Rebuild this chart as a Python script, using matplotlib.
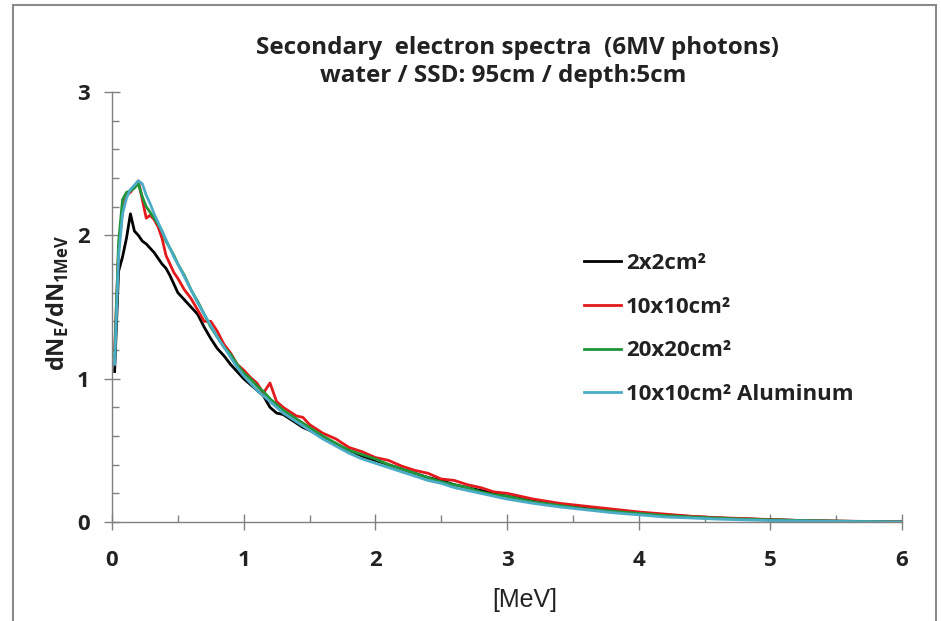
import matplotlib
matplotlib.use("Agg")
import matplotlib.pyplot as plt
from matplotlib.patches import Rectangle
from matplotlib.ticker import MultipleLocator

# energy grid [MeV]
E = [0.02, 0.05, 0.08, 0.11, 0.14, 0.17, 0.20, 0.23, 0.26, 0.29, 0.32, 0.35,
     0.38, 0.41, 0.44, 0.47, 0.50,
     0.55, 0.60, 0.65, 0.70, 0.75, 0.80, 0.85, 0.90, 0.95, 1.00,
     1.05, 1.10, 1.15, 1.20, 1.25, 1.30, 1.35, 1.40, 1.45, 1.50,
     1.6, 1.7, 1.8, 1.9, 2.0, 2.1, 2.2, 2.3, 2.4, 2.5, 2.6, 2.7, 2.8, 2.9, 3.0,
     3.2, 3.4, 3.6, 3.8, 4.0, 4.2, 4.4, 4.6, 4.8, 5.0,
     5.25, 5.5, 5.75, 6.0]

f2x2 = [1.05, 1.75, 1.85, 1.98, 2.15, 2.03, 2.00, 1.96, 1.94, 1.91, 1.88, 1.84,
        1.80, 1.77, 1.72, 1.66, 1.60,
        1.55, 1.50, 1.45, 1.36, 1.28, 1.21, 1.16, 1.10, 1.05, 1.00,
        0.96, 0.92, 0.88, 0.80, 0.76, 0.75, 0.72, 0.69, 0.66, 0.64,
        0.59, 0.54, 0.50, 0.46, 0.43, 0.40, 0.37, 0.34, 0.31, 0.29, 0.26, 0.24, 0.22, 0.20, 0.18,
        0.15, 0.12, 0.095, 0.08, 0.065, 0.05, 0.038, 0.028, 0.022, 0.016,
        0.01, 0.006, 0.003, 0.001]

f10x10 = [1.20, 1.90, 2.18, 2.28, 2.30, 2.34, 2.38, 2.25, 2.12, 2.14, 2.11, 2.06,
          1.98, 1.86, 1.80, 1.74, 1.70,
          1.62, 1.56, 1.48, 1.40, 1.40, 1.33, 1.24, 1.18, 1.10, 1.06,
          1.01, 0.97, 0.90, 0.97, 0.84, 0.80, 0.77, 0.74, 0.73, 0.68,
          0.62, 0.58, 0.52, 0.49, 0.45, 0.43, 0.39, 0.36, 0.34, 0.30, 0.29, 0.26, 0.24, 0.21, 0.20,
          0.16, 0.13, 0.11, 0.09, 0.07, 0.055, 0.04, 0.03, 0.024, 0.017,
          0.01, 0.006, 0.004, 0.001]

f20x20 = [1.15, 1.95, 2.25, 2.30, 2.31, 2.33, 2.36, 2.27, 2.20, 2.16, 2.12, 2.08,
          2.03, 1.96, 1.91, 1.86, 1.80,
          1.72, 1.62, 1.54, 1.45, 1.36, 1.29, 1.22, 1.17, 1.10, 1.04,
          1.00, 0.95, 0.91, 0.86, 0.82, 0.78, 0.75, 0.72, 0.69, 0.66,
          0.60, 0.55, 0.50, 0.47, 0.44, 0.40, 0.37, 0.34, 0.31, 0.28, 0.26, 0.24, 0.21, 0.19, 0.18,
          0.14, 0.115, 0.09, 0.075, 0.06, 0.045, 0.035, 0.027, 0.02, 0.015,
          0.01, 0.006, 0.003, 0.0]

f10x10_al = [1.10, 1.85, 2.15, 2.26, 2.32, 2.35, 2.38, 2.36, 2.28, 2.22, 2.15, 2.09,
             2.03, 1.97, 1.91, 1.85, 1.80,
             1.71, 1.62, 1.53, 1.45, 1.37, 1.29, 1.22, 1.15, 1.08, 1.02,
             0.97, 0.92, 0.88, 0.84, 0.80, 0.76, 0.73, 0.70, 0.67, 0.64,
             0.58, 0.53, 0.48, 0.44, 0.41, 0.38, 0.35, 0.32, 0.29, 0.27, 0.24, 0.22, 0.20, 0.18, 0.16,
             0.13, 0.105, 0.085, 0.065, 0.05, 0.035, 0.028, 0.02, 0.015, 0.01,
             0.007, 0.004, 0.002, 0.0]

series = [
    (f2x2, "2x2cm²", "black"),
    (f10x10, "10x10cm²", "#e3191c"),
    (f20x20, "20x20cm²", "#1f9438"),
    (f10x10_al, "10x10cm² Aluminum", "#4bacc6"),
]

W, H = 941, 621
fig = plt.figure(figsize=(W / 100, H / 100), dpi=100)
ax = fig.add_axes([112 / W, 1 - 522 / H, 790 / W, 430 / H])

for ys, lab, col in series:
    ax.plot(E, ys, color=col, lw=2.0, label=lab)

ax.set_xlim(0, 6)
ax.set_ylim(0, 3)
ax.xaxis.set_major_locator(MultipleLocator(1))
ax.xaxis.set_minor_locator(MultipleLocator(0.5))
ax.yaxis.set_major_locator(MultipleLocator(1))
ax.yaxis.set_minor_locator(MultipleLocator(0.2))
for s in ["top", "right"]:
    ax.spines[s].set_visible(False)
for s in ["left", "bottom"]:
    ax.spines[s].set_color("#808080")
    ax.spines[s].set_linewidth(1.0)
ax.tick_params(which="major", direction="inout", length=12, width=1,
               color="#808080", labelsize=16)
ax.tick_params(which="minor", direction="in", length=5, width=1, color="#808080")
ax.tick_params(axis="y", which="major", pad=10)
ax.tick_params(axis="x", which="major", pad=14)
for t in ax.get_xticklabels() + ax.get_yticklabels():
    t.set_fontweight("bold")
    t.set_family("Open Sans")
    t.set_color("#222222")

ax.set_xlabel("[MeV]", fontsize=18, family="Liberation Sans", color="#222222")
ax.xaxis.set_label_coords(525 / W, 1 - 600 / H, transform=fig.transFigure)
ax.xaxis.label.set_va("center")
ax.set_ylabel(r"dN$_\mathregular{E}$/dN$_\mathregular{1MeV}$", fontsize=17,
              fontweight="bold", family="Open Sans", color="#222222")
ax.yaxis.set_label_coords(58 / W, 1 - 303 / H, transform=fig.transFigure)
ax.yaxis.label.set_va("center")

fig.text(518 / W, 1 - 48 / H, "Secondary  electron spectra  (6MV photons)",
         ha="center", va="center", fontsize=17.5, fontweight="bold",
         family="Open Sans", color="#222222")
fig.text(503 / W, 1 - 76 / H, "water / SSD: 95cm / depth:5cm",
         ha="center", va="center", fontsize=17.5, fontweight="bold",
         family="Open Sans", color="#222222")

leg = ax.legend(loc="upper left", bbox_to_anchor=(584 / W, 1 - 253 / H),
                bbox_transform=fig.transFigure, frameon=False,
                borderpad=0, borderaxespad=0,
                handlelength=1.67, handletextpad=0.22, labelspacing=1.02,
                prop={"family": "Open Sans", "weight": "bold", "size": 16})
for t in leg.get_texts():
    t.set_color("#222222")

fig.add_artist(Rectangle((13 / W, -0.05), 923 / W, 1.05 - 5 / H,
                         transform=fig.transFigure, fill=False,
                         edgecolor="#8a8a8a", lw=1.5))

fig.savefig("out.png", dpi=100)
